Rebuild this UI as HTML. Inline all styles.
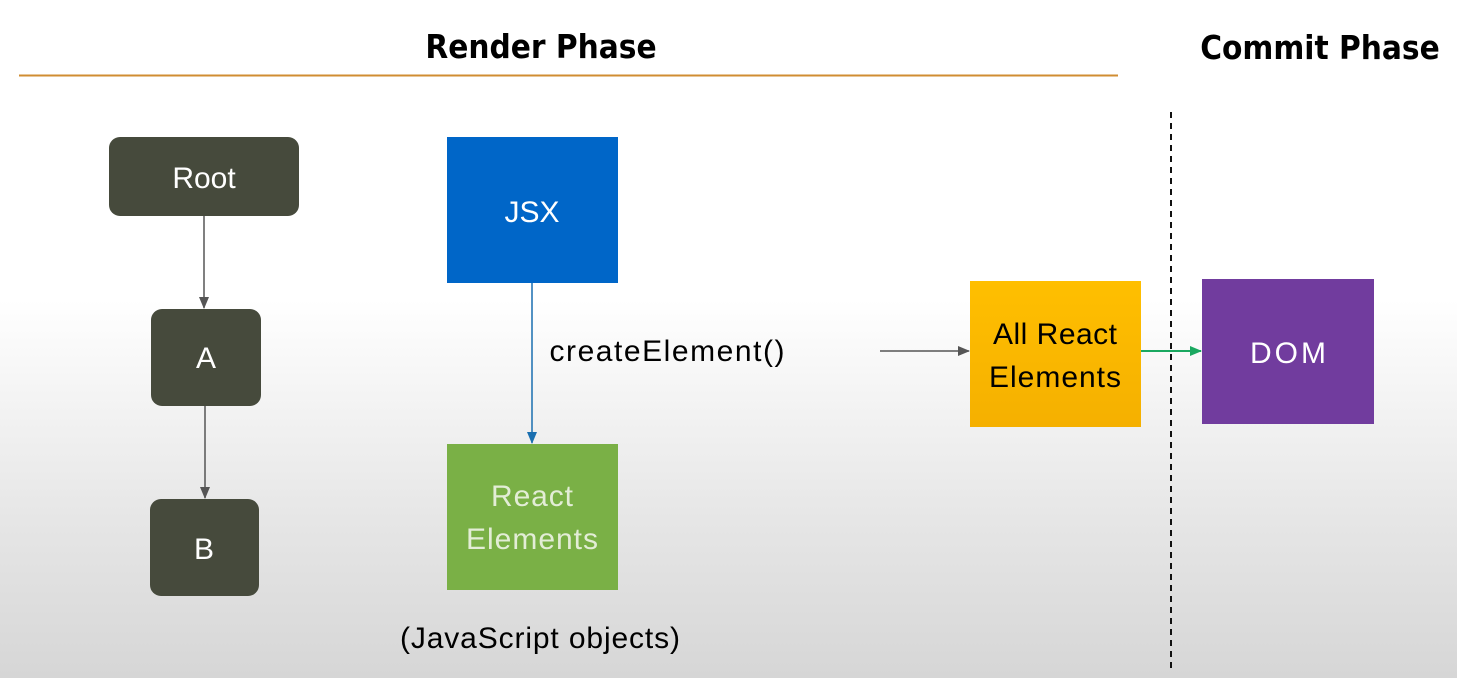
<!DOCTYPE html>
<html><head><style>
html,body{margin:0;padding:0}
body{width:1457px;height:678px;overflow:hidden;background:linear-gradient(to bottom,#fff 0px,#fff 300px,#e6e6e6 520px,#d6d6d6 678px);font-family:"Liberation Sans","DejaVu Sans",sans-serif}
</style></head><body>
<svg width="1457" height="678" xmlns="http://www.w3.org/2000/svg" style="position:absolute;left:0;top:0">
<defs>
<marker id="ag" markerWidth="12" markerHeight="10" refX="11" refY="5" orient="auto" markerUnits="userSpaceOnUse"><path d="M0,0 L12,5 L0,10z" fill="#555"/></marker>
<marker id="ab" markerWidth="12" markerHeight="10" refX="11" refY="5" orient="auto" markerUnits="userSpaceOnUse"><path d="M0,0 L12,5 L0,10z" fill="#1a6fb0"/></marker>
<marker id="agr" markerWidth="12" markerHeight="10" refX="11" refY="5" orient="auto" markerUnits="userSpaceOnUse"><path d="M0,0 L12,5 L0,10z" fill="#1aa860"/></marker>
<linearGradient id="yg" x1="0" y1="0" x2="0" y2="1"><stop offset="0" stop-color="#ffbf00"/><stop offset="1" stop-color="#f5b000"/></linearGradient>
</defs>
<g font-family="DejaVu Sans Condensed, DejaVu Sans, sans-serif" font-weight="bold" font-size="33" fill="#000">
<text x="541" y="58" text-anchor="middle">Render Phase</text>
<text x="1320" y="59" text-anchor="middle">Commit Phase</text>
</g>
<line x1="19" y1="75.5" x2="1118" y2="75.5" stroke="#d08d32" stroke-width="2"/>
<line x1="1171" y1="112" x2="1171" y2="670" stroke="#111" stroke-width="2" stroke-dasharray="6,5"/>
<rect x="109" y="137" width="190" height="79" rx="11" fill="#464a3c"/>
<rect x="151" y="309" width="110" height="97" rx="11" fill="#464a3c"/>
<rect x="150" y="499" width="109" height="97" rx="11" fill="#464a3c"/>
<line x1="204" y1="216" x2="204" y2="308" stroke="#555" stroke-width="1.5" marker-end="url(#ag)"/>
<line x1="205" y1="406" x2="205" y2="498" stroke="#555" stroke-width="1.5" marker-end="url(#ag)"/>
<rect x="447" y="137" width="171" height="146" fill="#0066c8"/>
<rect x="447" y="444" width="171" height="146" fill="#7ab046"/>
<line x1="532" y1="283" x2="532" y2="443" stroke="#1a6fb0" stroke-width="1.5" marker-end="url(#ab)"/>
<rect x="970" y="281" width="171" height="146" fill="url(#yg)"/>
<rect x="1202" y="279" width="172" height="145" fill="#713c9e"/>
<line x1="880" y1="351" x2="969" y2="351" stroke="#555" stroke-width="1.5" marker-end="url(#ag)"/>
<line x1="1141" y1="351" x2="1201" y2="351" stroke="#1aa860" stroke-width="2" marker-end="url(#agr)"/>
<g font-family="Liberation Sans, sans-serif" font-size="30" text-anchor="middle">
<text x="204" y="188" fill="#fff">Root</text>
<text x="206" y="368" fill="#fff">A</text>
<text x="204" y="559" fill="#fff">B</text>
<text x="532" y="222" fill="#fff">JSX</text>
<text x="532" y="506" fill="#e3edd6" textLength="82">React</text>
<text x="532" y="549" fill="#e3edd6" textLength="132">Elements</text>
<text x="1055" y="344" fill="#000" textLength="124">All React</text>
<text x="1055" y="387" fill="#000" textLength="132">Elements</text>
<text x="1288" y="363" fill="#fff" textLength="76">DOM</text>
<text x="667" y="361" fill="#000" textLength="235">createElement()</text>
<text x="540" y="648" fill="#000" textLength="280">(JavaScript objects)</text>
</g>
</svg>
</body></html>
